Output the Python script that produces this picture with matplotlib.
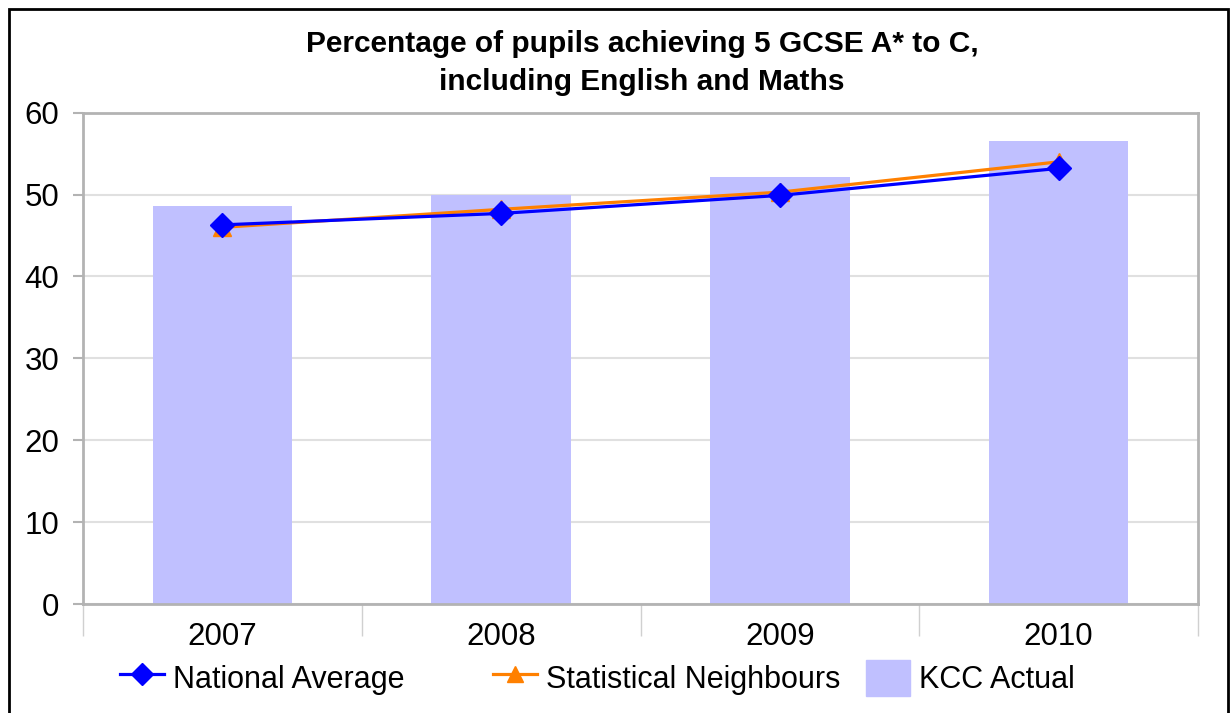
import matplotlib
matplotlib.use("Agg")
from matplotlib import pyplot as plt, patches
from matplotlib.lines import Line2D

years = ["2007", "2008", "2009", "2010"]
kcc_actual = [48.6, 49.9, 52.1, 56.6]
national_average = [46.3, 47.7, 49.9, 53.2]
statistical_neighbours = [46.0, 48.2, 50.3, 54.0]

bar_color = "#c0c0ff"
nat_color = "#0000ff"
stat_color = "#ff8000"
frame_gray = "#b3b3b3"

plt.rcParams["font.family"] = ["Liberation Sans", "DejaVu Sans"]

fig = plt.figure(figsize=(12.3, 7.13), dpi=100)
ax = fig.add_axes([83 / 1230, 1 - 604 / 713, 1115 / 1230, (604 - 112.7) / 713])

x = list(range(len(years)))
ax.bar(x, kcc_actual, width=0.5, color=bar_color, zorder=2)
ax.plot(x, statistical_neighbours, color=stat_color, lw=2.3, marker="^", ms=13, zorder=3)
ax.plot(x, national_average, color=nat_color, lw=2.3, marker="D", ms=12, zorder=4)

ax.set_xlim(-0.5, len(years) - 0.5)
ax.set_ylim(0, 60)
ax.set_yticks(range(0, 61, 10))
ax.yaxis.grid(True, color="#e0e0e0", lw=1.5, zorder=0)
ax.set_axisbelow(True)

# category separators as major ticks, year labels on minor ticks
ax.set_xticks([i - 0.5 for i in range(len(years) + 1)])
ax.set_xticklabels([])
ax.set_xticks(x, minor=True)
ax.set_xticklabels(years, minor=True)
ax.tick_params(axis="x", which="major", length=23, color="#d0d0d0", width=1)
ax.tick_params(axis="x", which="minor", length=0, pad=13, labelsize=22.5)
ax.tick_params(axis="y", length=7, color=frame_gray, width=1.5, pad=10, labelsize=22.5)

for s in ax.spines.values():
    s.set_color(frame_gray)
    s.set_linewidth(2)

fig.text(0.522, 1 - 63 / 713, "Percentage of pupils achieving 5 GCSE A* to C,\nincluding English and Maths",
         ha="center", va="center", fontsize=21.5, fontweight="bold", linespacing=1.5)

# legend entries laid out in equal-width columns
handles = [
    Line2D([], [], color=nat_color, lw=2.3, marker="D", ms=11),
    Line2D([], [], color=stat_color, lw=2.3, marker="^", ms=12),
    patches.Patch(color=bar_color),
]
labels = ["National Average", "Statistical Neighbours", "KCC Actual"]
xs = [120 / 1230, 493 / 1230, 866 / 1230]
for h, lab, xp in zip(handles, labels, xs):
    fig.legend([h], [lab], loc="center left", bbox_to_anchor=(xp, 1 - 678 / 713),
               frameon=False, fontsize=22, borderpad=0, borderaxespad=0,
               handlelength=1.45, handleheight=1.4, handletextpad=0.3)

border = patches.Rectangle((9 / 1230, -0.02), 1219 / 1230, 1 - 9 / 713 + 0.02,
                           transform=fig.transFigure, fill=False, ec="black", lw=2)
fig.patches.append(border)

fig.savefig("out.png", dpi=100, facecolor="white")
